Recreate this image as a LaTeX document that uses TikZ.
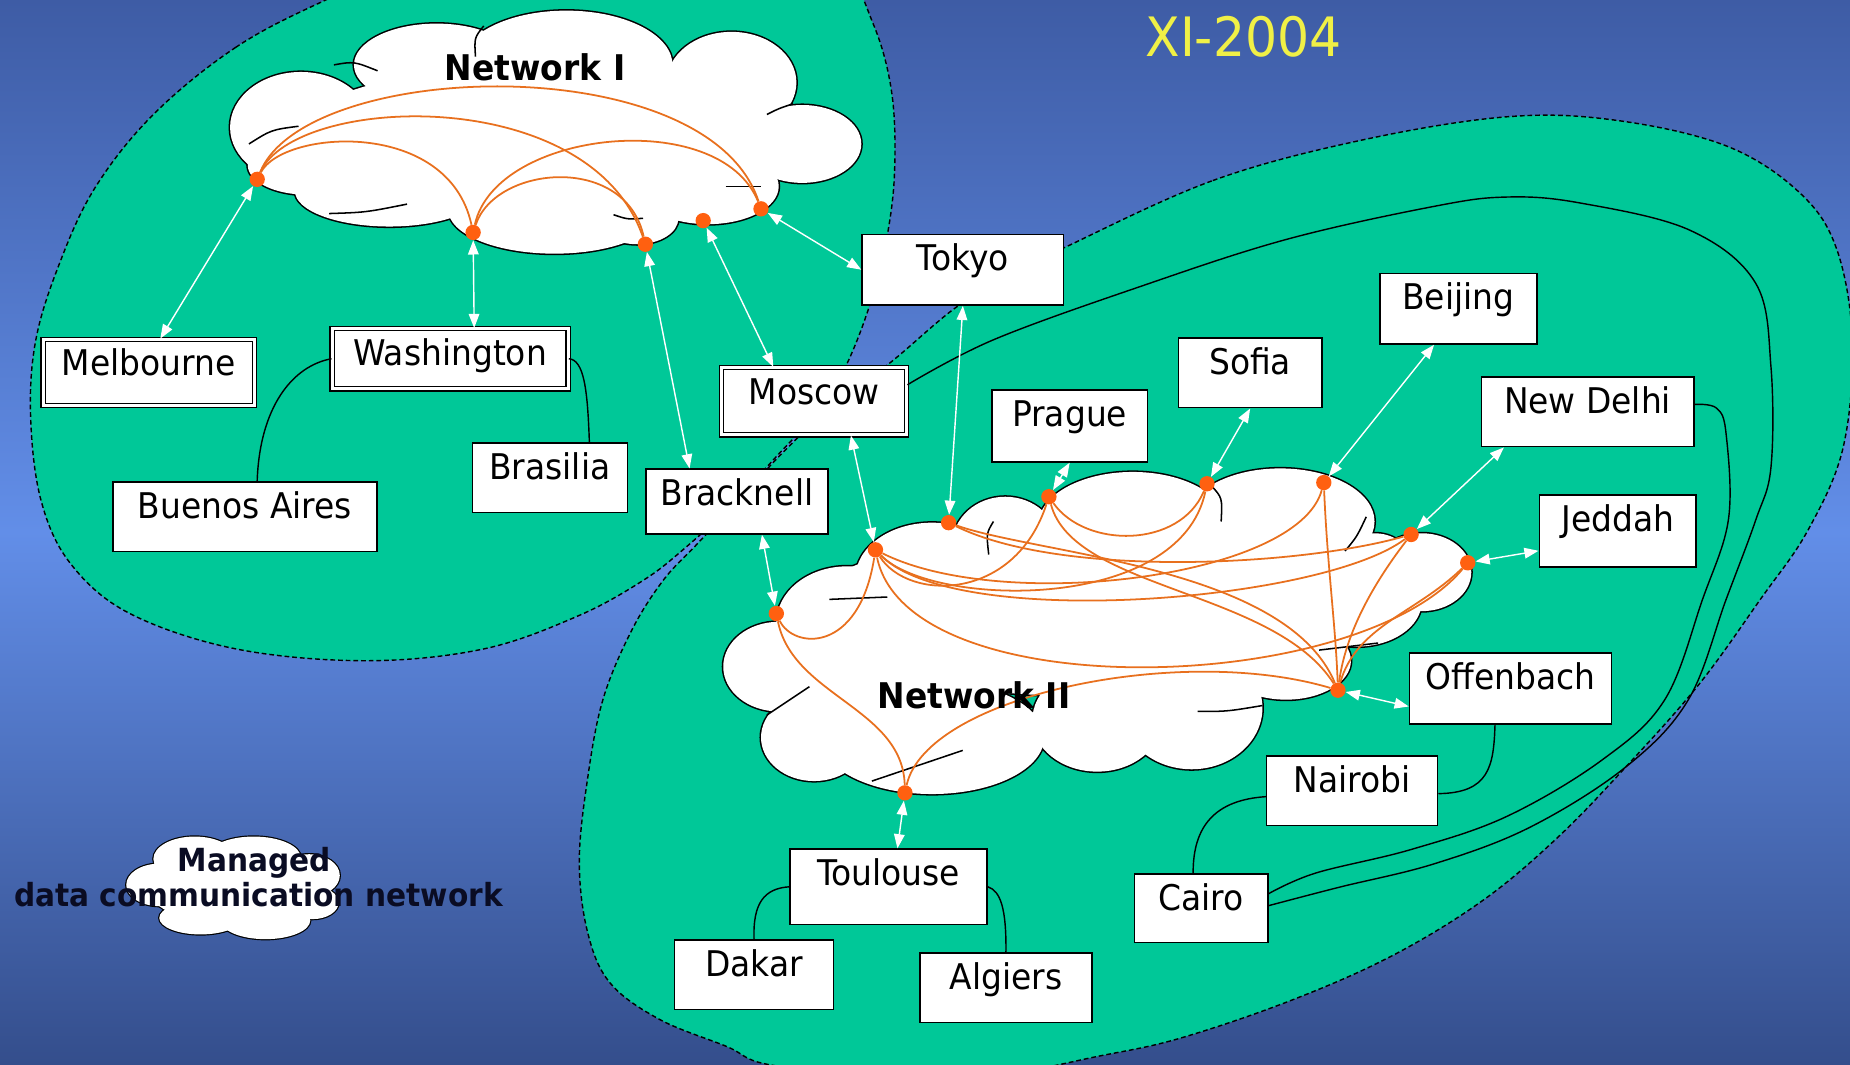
\documentclass[tikz,border=0pt]{standalone}
\usepackage{fontspec}
\setmainfont{DejaVu Sans}[FakeStretch=0.93]
\usetikzlibrary{arrows.meta}
\definecolor{bgtop}{RGB}{62,92,165}
\definecolor{bgmid}{RGB}{98,142,232}
\definecolor{bgbot}{RGB}{52,78,140}
\definecolor{zone}{RGB}{0,200,152}
\definecolor{lnk}{RGB}{232,112,30}
\definecolor{dotc}{RGB}{255,96,16}
\definecolor{ttl}{RGB}{240,240,70}
\definecolor{navy}{RGB}{10,12,35}
\begin{document}
\begin{tikzpicture}[x=1pt,y=-1pt,
  cbox/.style={draw=black, fill=white, line width=1.2pt, inner sep=0pt, anchor=north west, text height=31pt, font=\fontsize{30pt}{30pt}\selectfont},
  dbox/.style={cbox, double=white, double distance=2.4pt, line width=1.1pt},
  dot/.style={circle, fill=dotc, inner sep=0pt, minimum size=13pt},
  olink/.style={draw=lnk, line width=1.5pt},
  blk/.style={draw=black, line width=1.2pt},
  warr/.style={draw=white, line width=1.2pt, {Triangle[length=12pt,width=9pt]}-{Triangle[length=12pt,width=9pt]}},
  zoneb/.style={draw=black, line width=1.2pt, dash pattern=on 4pt off 2.5pt},
  innerl/.style={draw=black, line width=1.3pt},
]
\useasboundingbox (0,0) rectangle (1568,902);
\clip (0,0) rectangle (1568,902);
\shade[top color=bgtop, bottom color=bgbot, middle color=bgmid] (0,0) rectangle (1568,902);

% ---- zones
\path[fill=zone, zoneb] plot[smooth cycle, tension=0.6] coordinates {
 (276,0) (200,40) (130,97) (80,160) (49,227) (30,290) (26,355) (35,425) (60,478) (110,520)
 (200,550) (310,560) (410,550) (490,522) (545,492) (580,465) (618,430) (658,387) (698,343)
 (718,308) (736,262) (750,210) (758,150) (756,80) (740,20) (710,-30) (630,-60) (500,-70) (370,-40)};
\path[fill=zone, zoneb] plot[smooth cycle, tension=0.6] coordinates {
 (904,209) (1028,153) (1153,119) (1277,99) (1370,102) (1464,124) (1526,164) (1557,212)
 (1570,290) (1562,380) (1532,450) (1492,508) (1440,580) (1378,650) (1320,710) (1257,763)
 (1180,810) (1094,848) (1000,880) (932,895) (840,912) (740,912) (650,902) (616,887) (559,864)
 (517,833) (498,790) (491,730) (498,660) (511,593) (535,535) (562,492) (590,462) (625,425)
 (666,381) (710,340) (755,307) (811,260) (860,232)};

% ---- clouds
\def\cloudI{255/108/60/47, 260/140/50/25, 370/55/70/35, 480/55/90/46, 620/70/55/43, 680/122/50/33, 600/158/60/32, 470/178/90/37, 540/185/35/22, 330/162/80/30, 460/115/210/60}
\def\cloudII{660/565/47/38, 690/625/45/37, 718/528/60/48, 790/490/65/47, 852/462/45/41, 960/445/80/45, 1085/442/80/45, 1205/485/42/33, 1165/472/28/20, 1150/510/55/38, 1090/560/55/33, 1010/600/60/52, 930/610/55/44, 790/625/95/48, 760/560/60/40, 712/590/42/32, 920/520/240/70}
\def\cloudL{135/750/28/18, 165/728/35/19, 215/727/40/18, 262/742/26/18, 265/765/22/14, 225/780/38/16, 170/778/35/14, 197/755/70/28}
\foreach \cx/\cy/\rx/\ry in \cloudI {\draw[line width=2.6pt] (\cx,\cy) ellipse [x radius=\rx, y radius=\ry];}
\foreach \cx/\cy/\rx/\ry in \cloudI {\fill[white] (\cx,\cy) ellipse [x radius=\rx, y radius=\ry];}
\foreach \cx/\cy/\rx/\ry in \cloudII {\draw[line width=2.6pt] (\cx,\cy) ellipse [x radius=\rx, y radius=\ry];}
\foreach \cx/\cy/\rx/\ry in \cloudII {\fill[white] (\cx,\cy) ellipse [x radius=\rx, y radius=\ry];}
\foreach \cx/\cy/\rx/\ry in \cloudL {\draw[line width=2pt] (\cx,\cy) ellipse [x radius=\rx, y radius=\ry];}
\foreach \cx/\cy/\rx/\ry in \cloudL {\fill[white] (\cx,\cy) ellipse [x radius=\rx, y radius=\ry];}

% interior cloud strokes
\draw[innerl] (283,55) .. controls (300,52) .. (320,60);
\draw[innerl] (410,22) .. controls (402,32) .. (403,48);
\draw[innerl] (211,122) .. controls (230,110) .. (253,107);
\draw[innerl] (279,181) .. controls (310,180) .. (345,173);
\draw[innerl] (615,158) -- (645,158);
\draw[innerl] (520,182) .. controls (532,186) .. (545,185);
\draw[innerl] (650,97) .. controls (660,92) .. (672,88);
\draw[innerl] (703,508) -- (752,506);
\draw[innerl] (842,442) .. controls (836,452) .. (838,470);
\draw[innerl] (1027,412) .. controls (1036,422) .. (1035,442);
\draw[innerl] (1158,438) .. controls (1150,455) .. (1140,467);
\draw[innerl] (1118,551) -- (1168,545);
\draw[innerl] (1015,603) .. controls (1040,603) .. (1070,598);
\draw[innerl] (739,662) -- (816,636);
\draw[innerl] (650,606) -- (686,582);

% ---- network dots
\node[dot] (m1) at (218,152) {};
\node[dot] (w1) at (401,197) {};
\node[dot] (k1) at (547,207) {};
\node[dot] (v1) at (596,187) {};
\node[dot] (t1) at (645,177) {};
\node[dot] (a2) at (658,520) {};
\node[dot] (b2) at (742,466) {};
\node[dot] (c2) at (804,443) {};
\node[dot] (p2) at (889,421) {};
\node[dot] (s2) at (1023,410) {};
\node[dot] (e2) at (1122,409) {};
\node[dot] (n2) at (1196,453) {};
\node[dot] (j2) at (1244,477) {};
\node[dot] (o2) at (1134,585) {};
\node[dot] (t2) at (767,672) {};

% ---- orange links, network I
\draw[olink] (m1) .. controls (240,110) and (380,100) .. (w1);
\draw[olink] (m1) .. controls (250,80) and (500,70) .. (k1);
\draw[olink] (m1) .. controls (260,50) and (600,40) .. (t1);
\draw[olink] (w1) .. controls (420,140) and (530,130) .. (k1);
\draw[olink] (w1) .. controls (420,110) and (610,90) .. (t1);
% ---- orange links, network II
\draw[olink] (a2) .. controls (672,550) and (728,555) .. (b2);
\draw[olink] (a2) .. controls (672,590) and (765,600) .. (t2);
\draw[olink] (t2) .. controls (785,590) and (1000,545) .. (o2);
\draw[olink] (b2) .. controls (770,510) and (860,510) .. (p2);
\draw[olink] (b2) .. controls (790,515) and (1000,520) .. (s2);
\draw[olink] (b2) .. controls (810,535) and (1120,510) .. (n2);
\draw[olink] (b2) .. controls (770,600) and (1150,590) .. (j2);
\draw[olink] (c2) .. controls (900,490) and (1100,480) .. (n2);
\draw[olink] (c2) .. controls (880,470) and (1090,480) .. (o2);
\draw[olink] (p2) .. controls (920,465) and (1000,465) .. (s2);
\draw[olink] (p2) .. controls (910,500) and (1080,500) .. (o2);
\draw[olink] (e2) .. controls (1100,490) and (850,520) .. (b2);
\draw[olink] (e2) .. controls (1125,480) and (1132,530) .. (o2);
\draw[olink] (n2) .. controls (1160,500) and (1140,540) .. (o2);
\draw[olink] (j2) .. controls (1200,520) and (1150,530) .. (o2);

% ---- labels
\node[font=\bfseries\fontsize{30pt}{30pt}\selectfont] (lblI) at (453.5,57) {Network I};
\node[font=\bfseries\fontsize{30pt}{30pt}\selectfont] (lblII) at (825.5,589) {Network II};
\node[font=\fontsize{46pt}{46pt}\selectfont, text=ttl] (title) at (1054,31.5) {XI-2004};
\node[font=\bfseries\fontsize{27pt}{27pt}\selectfont, text=navy, anchor=base] (leg1) at (215.6,738.7) {Managed};
\node[font=\bfseries\fontsize{27pt}{27pt}\selectfont, text=navy, anchor=base] (leg2) at (219,768.4) {data communication network};

% ---- city boxes
\node[dbox, minimum width=179pt, text depth=25pt] (mel) at (36,287) {Melbourne};
\node[dbox, minimum width=200pt, text depth=20pt] (was) at (281,278) {Washington};
\node[dbox, minimum width=157pt, text depth=26pt] (mos) at (611,311) {Moscow};
\node[cbox, minimum width=224pt, text depth=28pt] (bue) at (95,408) {Buenos Aires};
\node[cbox, minimum width=131pt, text depth=28pt] (bra) at (400,375) {Brasilia};
\node[cbox, minimum width=154pt, text depth=24pt] (bkn) at (547,397) {Bracknell};
\node[cbox, minimum width=171pt, text depth=29pt] (tok) at (730,198) {Tokyo};
\node[cbox, minimum width=132pt, text depth=30pt] (pra) at (840,330) {Prague};
\node[cbox, minimum width=122pt, text depth=28pt] (sof) at (998,286) {Sofia};
\node[cbox, minimum width=133pt, text depth=29pt] (bei) at (1169,231) {Beijing};
\node[cbox, minimum width=180pt, text depth=28pt] (ndl) at (1255,319) {New Delhi};
\node[cbox, minimum width=133pt, text depth=30pt] (jed) at (1304,419) {Jeddah};
\node[cbox, minimum width=171pt, text depth=29pt] (off) at (1194,553) {Offenbach};
\node[cbox, minimum width=145pt, text depth=28pt] (nai) at (1073,640) {Nairobi};
\node[cbox, minimum width=113pt, text depth=27pt] (cai) at (961,740) {Cairo};
\node[cbox, minimum width=167pt, text depth=33pt] (tou) at (669,719) {Toulouse};
\node[cbox, minimum width=135pt, text depth=28pt] (dak) at (571,796) {Dakar};
\node[cbox, minimum width=146pt, text depth=28pt] (alg) at (779,807) {Algiers};

% ---- black backbone links
\draw[blk] (was.west) .. controls (248,310) and (220,345) .. (bue.71);
\draw[blk] (was.east) .. controls (495,305) and (498,330) .. (bra.42);
\draw[blk] (tou.west) .. controls (648,753) and (638,765) .. (dak.north);
\draw[blk] (tou.east) .. controls (848,755) and (853,770) .. (alg.north);
\draw[blk] (off.247) .. controls (1266,650) and (1262,672) .. (nai.358);
\draw[blk] (nai.184) .. controls (1030,678) and (1011,700) .. (cai.103);
\draw[blk] plot[smooth, tension=0.6] coordinates {(mos.10) (842,288) (966,243) (1090,203) (1215,175) (1277,167) (1339,172) (1432,195) (1488,240) (1501,311) (1501,396) (1488,441) (1463,508) (1431,593) (1378,650) (1297,701) (1216,732) (1135,752) (cai.2)};
\draw[blk] plot[smooth, tension=0.6] coordinates {(ndl.4) (1455,346) (1463,368) (1465,440) (1443,508) (1411,593) (1358,644) (1277,692) (1196,720) (1115,740) (cai.12)};

% ---- white access arrows
\draw[warr] (m1) -- (mel.71);
\draw[warr] (w1) -- (was.52);
\draw[warr] (k1) -- (bkn.145);
\draw[warr] (v1) -- (mos.140);
\draw[warr] (t1) -- (tok.west);
\draw[warr] (tok.south) -- (c2);
\draw[warr] (mos.317) -- (b2);
\draw[warr] (bkn.307) -- (a2);
\draw[warr] (pra.south) -- (p2);
\draw[warr] (sof.south) -- (s2);
\draw[warr] (bei.236) -- (e2);
\draw[warr] (ndl.203) -- (n2);
\draw[warr] (jed.194) -- (j2);
\draw[warr] (off.190) -- (o2);
\draw[warr] (tou.77) -- (t2);
\end{tikzpicture}
\end{document}
